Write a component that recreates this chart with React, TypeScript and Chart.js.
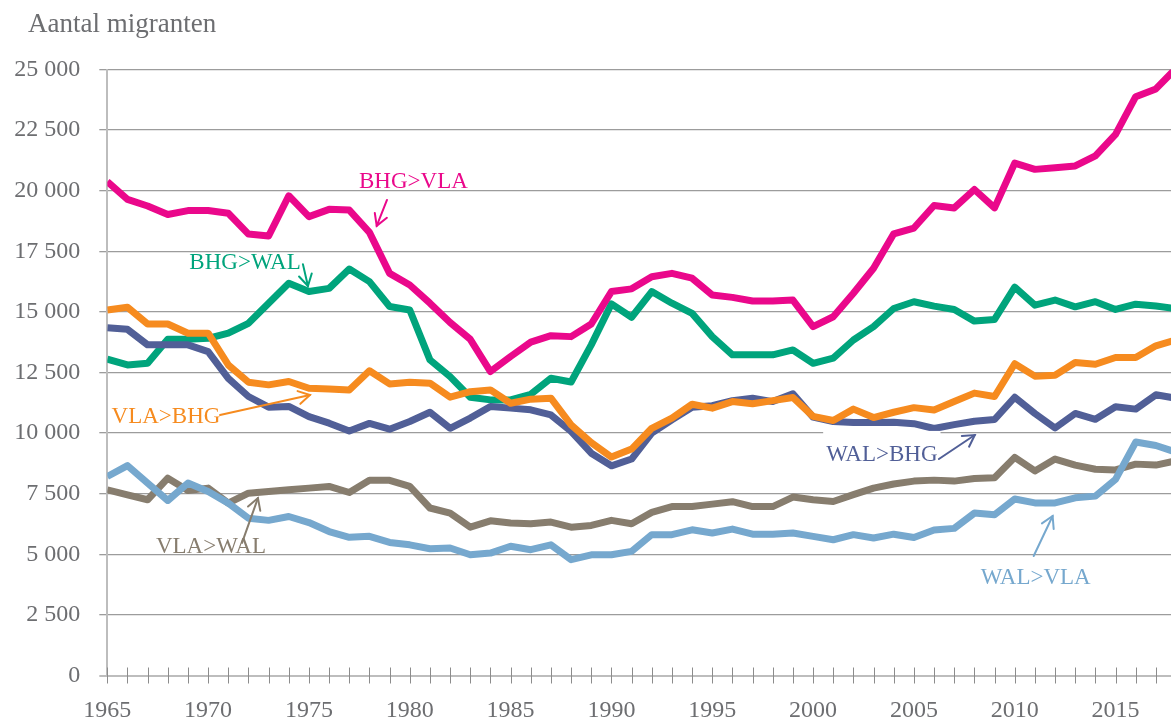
import { useEffect, useRef } from 'react';
import { Chart, registerables } from 'chart.js';

Chart.register(...registerables);

// ---- Data ----
const years: number[] = [
  1965, 1966, 1967, 1968, 1969, 1970, 1971, 1972, 1973, 1974,
  1975, 1976, 1977, 1978, 1979, 1980, 1981, 1982, 1983, 1984,
  1985, 1986, 1987, 1988, 1989, 1990, 1991, 1992, 1993, 1994,
  1995, 1996, 1997, 1998, 1999, 2000, 2001, 2002, 2003, 2004,
  2005, 2006, 2007, 2008, 2009, 2010, 2011, 2012, 2013, 2014,
  2015, 2016, 2017, 2018,
];

const bhgVla: number[] = [
  20370, 19640, 19370, 19020, 19180, 19180, 19070, 18210, 18130, 19790,
  18930, 19230, 19200, 18280, 16590, 16110, 15360, 14560, 13870, 12540,
  13160, 13750, 14020, 13980, 14500, 15840, 15950, 16450, 16590, 16390,
  15700, 15600, 15450, 15450, 15490, 14390, 14800, 15770, 16800, 18220,
  18460, 19390, 19290, 20050, 19290, 21140, 20880, 20950, 21020, 21440,
  22320, 23880, 24200, 25050,
];

const bhgWal: number[] = [
  13050, 12810, 12880, 13870, 13870, 13910, 14120, 14530, 15360, 16180,
  15840, 15970, 16770, 16250, 15220, 15080, 13020, 12330, 11480, 11370,
  11370, 11600, 12260, 12110, 13640, 15330, 14780, 15840, 15360, 14940,
  13980, 13230, 13230, 13230, 13430, 12880, 13090, 13840, 14390, 15140,
  15420, 15240, 15100, 14620, 14690, 16020, 15280, 15490, 15210, 15420,
  15100, 15320, 15240, 15140,
];

const vlaBhg: number[] = [
  15080, 15190, 14500, 14500, 14120, 14120, 12810, 12100, 11990, 12130,
  11850, 11820, 11780, 12570, 12030, 12100, 12060, 11480, 11710, 11780,
  11230, 11400, 11440, 10340, 9610, 9010, 9340, 10200, 10620, 11190,
  11030, 11300, 11210, 11340, 11470, 10690, 10520, 10990, 10640, 10860,
  11050, 10950, 11300, 11650, 11510, 12860, 12350, 12390, 12910, 12840,
  13120, 13120, 13600, 13840,
];

const walBhg: number[] = [
  14350, 14280, 13640, 13640, 13640, 13360, 12260, 11510, 11070, 11100,
  10680, 10410, 10090, 10400, 10160, 10480, 10860, 10200, 10620, 11100,
  11030, 10960, 10750, 10070, 9170, 8650, 8930, 10000, 10550, 11070,
  11130, 11340, 11440, 11300, 11620, 10660, 10480, 10440, 10440, 10450,
  10390, 10190, 10350, 10490, 10560, 11480, 10810, 10210, 10810, 10570,
  11090, 10990, 11580, 11440,
];

const walVla: number[] = [
  8210, 8660, 7940, 7220, 7940, 7590, 7110, 6490, 6400, 6560,
  6310, 5940, 5700, 5740, 5490, 5390, 5230, 5260, 4980, 5050,
  5330, 5190, 5390, 4780, 4980, 4980, 5120, 5810, 5810, 6010,
  5880, 6040, 5830, 5830, 5880, 5740, 5600, 5810, 5670, 5830,
  5690, 6000, 6070, 6700, 6630, 7280, 7120, 7120, 7330, 7400,
  8090, 9630, 9490, 9210,
];

const vlaWal: number[] = [
  7660, 7450, 7250, 8140, 7630, 7730, 7110, 7520, 7590, 7660,
  7730, 7800, 7550, 8050, 8050, 7800, 6910, 6700, 6120, 6380,
  6290, 6260, 6330, 6120, 6190, 6400, 6260, 6730, 6970, 6970,
  7070, 7170, 6970, 6970, 7360, 7250, 7180, 7460, 7730, 7900,
  8020, 8060, 8020, 8130, 8160, 9000, 8440, 8930, 8680, 8510,
  8480, 8720, 8680, 8860,
];

const yTickValues: number[] = [0, 2500, 5000, 7500, 10000, 12500, 15000, 17500, 20000, 22500, 25000];
const xLabelYears: number[] = [1965, 1970, 1975, 1980, 1985, 1990, 1995, 2000, 2005, 2010, 2015];

const COLORS = {
  pink: '#ea088b',
  green: '#00a47c',
  orange: '#f68b1f',
  navy: '#515f97',
  lightBlue: '#76a8ce',
  brown: '#877d6e',
};

// first dataset is drawn on top
const series = [
  { label: 'BHG>VLA', values: bhgVla, color: COLORS.pink },
  { label: 'VLA>BHG', values: vlaBhg, color: COLORS.orange },
  { label: 'WAL>BHG', values: walBhg, color: COLORS.navy },
  { label: 'BHG>WAL', values: bhgWal, color: COLORS.green },
  { label: 'WAL>VLA', values: walVla, color: COLORS.lightBlue },
  { label: 'VLA>WAL', values: vlaWal, color: COLORS.brown },
];

// annotation labels (in data coordinates: year, value)
const annotations = [
  { text: 'BHG>VLA', color: COLORS.pink, tx: 1980.18, tv: 20380, fx: 1978.87, fv: 19620, ax: 1978.36, av: 18550, bg: false },
  { text: 'BHG>WAL', color: COLORS.green, tx: 1971.83, tv: 17020, fx: 1974.7, fv: 16970, ax: 1974.95, av: 16070, bg: false },
  { text: 'VLA>BHG', color: COLORS.orange, tx: 1967.91, tv: 10660, fx: 1970.59, fv: 10750, ax: 1975.05, av: 11570, bg: false },
  { text: 'VLA>WAL', color: COLORS.brown, tx: 1970.14, tv: 5300, fx: 1971.68, fv: 5470, ax: 1972.47, av: 7320, bg: false },
  { text: 'WAL>BHG', color: COLORS.navy, tx: 2003.41, tv: 9100, fx: 2006.24, fv: 8930, ax: 2008.02, av: 9920, bg: true },
  { text: 'WAL>VLA', color: COLORS.lightBlue, tx: 2011.04, tv: 4020, fx: 2010.94, fv: 4930, ax: 2011.88, av: 6580, bg: false },
];

const FONT_FAMILY = '"Liberation Serif", "Times New Roman", serif';
const TEXT_GRAY = '#6d6e71';

function formatThousands(v: number): string {
  if (v === 0) return '0';
  const th = Math.floor(v / 1000);
  const rest = Math.round(v % 1000);
  return th > 0 ? `${th} ${String(rest).padStart(3, '0')}` : String(rest);
}

const overlayPlugin = {
  id: 'overlay',
  beforeDatasetsDraw(chart: any) {
    const { ctx, scales } = chart;
    const x = scales.x;
    const y = scales.y;
    const y0 = y.getPixelForValue(0);
    ctx.save();
    ctx.strokeStyle = '#8c8c8c';
    ctx.lineWidth = 1;
    for (const yr of years) {
      if (yr > x.max) continue;
      const px = Math.round(x.getPixelForValue(yr)) + 0.5;
      ctx.beginPath();
      ctx.moveTo(px, y0 - 8);
      ctx.lineTo(px, y0 + 8);
      ctx.stroke();
    }
    ctx.restore();
  },
  afterDatasetsDraw(chart: any) {
    const { ctx, scales } = chart;
    const x = scales.x;
    const y = scales.y;
    ctx.save();
    ctx.font = `23px ${FONT_FAMILY}`;
    ctx.textAlign = 'center';
    ctx.textBaseline = 'middle';
    for (const a of annotations) {
      const tx = x.getPixelForValue(a.tx);
      const ty = y.getPixelForValue(a.tv);
      if (a.bg) {
        const w = ctx.measureText(a.text).width;
        ctx.fillStyle = '#ffffff';
        ctx.fillRect(tx - w / 2 - 3, ty - 24, w + 6, 38);
      }
      ctx.fillStyle = a.color;
      ctx.fillText(a.text, tx, ty);
      const fx = x.getPixelForValue(a.fx);
      const fy = y.getPixelForValue(a.fv);
      const ax = x.getPixelForValue(a.ax);
      const ay = y.getPixelForValue(a.av);
      ctx.strokeStyle = a.color;
      ctx.lineWidth = 2;
      ctx.lineCap = 'round';
      ctx.beginPath();
      ctx.moveTo(fx, fy);
      ctx.lineTo(ax, ay);
      ctx.stroke();
      const ang = Math.atan2(ay - fy, ax - fx);
      const len = 13;
      const spread = Math.PI / 6;
      ctx.beginPath();
      ctx.moveTo(ax - len * Math.cos(ang - spread), ay - len * Math.sin(ang - spread));
      ctx.lineTo(ax, ay);
      ctx.lineTo(ax - len * Math.cos(ang + spread), ay - len * Math.sin(ang + spread));
      ctx.stroke();
    }
    ctx.restore();
  },
  afterDraw(chart: any) {
    const { ctx } = chart;
    ctx.save();
    ctx.font = `27px ${FONT_FAMILY}`;
    ctx.fillStyle = TEXT_GRAY;
    ctx.textAlign = 'left';
    ctx.textBaseline = 'alphabetic';
    ctx.fillText('Aantal migranten', 28, 32);
    ctx.restore();
  },
};

export default function App() {
  const canvasRef = useRef<HTMLCanvasElement | null>(null);

  useEffect(() => {
    const canvas = canvasRef.current;
    if (!canvas) return;
    const chart = new Chart(canvas, {
      type: 'line',
      data: {
        datasets: series.map((s) => ({
          label: s.label,
          data: years.map((yr, i) => ({ x: yr, y: s.values[i] })),
          borderColor: s.color,
          backgroundColor: s.color,
          borderWidth: 7,
          pointRadius: 0,
          pointHoverRadius: 0,
          tension: 0,
          fill: false,
          borderJoinStyle: 'round' as const,
        })),
      },
      options: {
        animation: false,
        responsive: false,
        devicePixelRatio: 1,
        events: [],
        layout: { padding: { top: 69.5, left: 0, right: 0, bottom: 0 } },
        plugins: {
          legend: { display: false },
          tooltip: { enabled: false },
          title: { display: false },
        },
        scales: {
          x: {
            type: 'linear',
            min: 1965,
            max: 2017.75,
            grid: { display: false, drawTicks: false },
            border: { display: false },
            ticks: {
              stepSize: 1,
              autoSkip: false,
              maxRotation: 0,
              padding: 21,
              color: TEXT_GRAY,
              font: { family: FONT_FAMILY, size: 24 },
              callback: (v: any) => (xLabelYears.includes(Number(v)) ? String(v) : ''),
            },
            afterFit: (s: any) => {
              s.height = 46.5;
              s.paddingLeft = 0;
              s.paddingRight = 0;
            },
          },
          y: {
            min: 0,
            max: 25000,
            afterBuildTicks: (s: any) => {
              s.ticks = yTickValues.map((v) => ({ value: v }));
            },
            ticks: {
              padding: 19,
              color: TEXT_GRAY,
              font: { family: FONT_FAMILY, size: 24 },
              callback: (v: any) => formatThousands(Number(v)),
            },
            grid: {
              color: (c: any) => (c.tick && c.tick.value === 0 ? '#bdbdbd' : '#9c9c9c'),
              lineWidth: (c: any) => (c.tick && c.tick.value === 0 ? 2 : 1.3),
              tickLength: 8,
              drawTicks: true,
            },
            border: { display: true, color: '#bdbdbd', width: 2 },
            afterFit: (s: any) => {
              s.width = 107.3;
            },
          },
        },
      },
      plugins: [overlayPlugin],
    });
    return () => {
      chart.destroy();
    };
  }, []);

  return (
    <div style={{ position: 'absolute', left: 0, top: 0, width: 1171, height: 722, background: '#ffffff' }}>
      <canvas ref={canvasRef} width={1171} height={722} style={{ display: 'block' }} />
    </div>
  );
}
